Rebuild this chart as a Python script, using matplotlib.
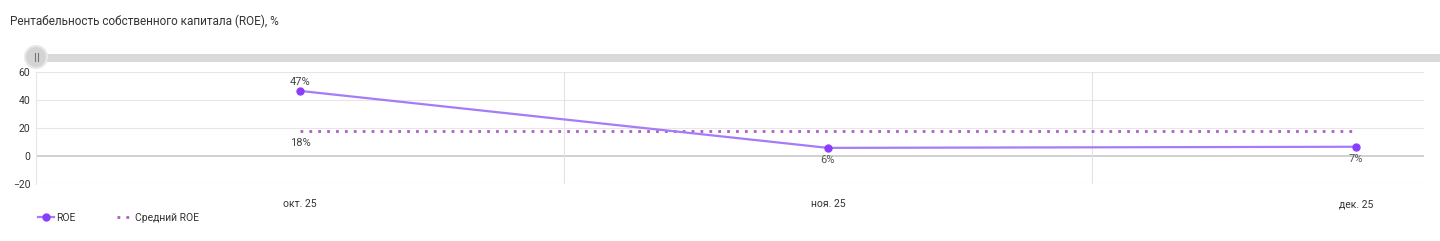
import matplotlib.pyplot as plt
from matplotlib.patches import Rectangle, Ellipse

months = ["окт. 25", "ноя. 25", "дек. 25"]
roe = [46.5, 5.8, 6.6]
roe_labels = ["47%", "6%", "7%"]
avg_roe = 18.0
avg_label = "18%"
yticks = [-20, 0, 20, 40, 60]

plt.rcParams['font.family'] = ['Roboto', 'DejaVu Sans']

W, H = 1440, 241
fig = plt.figure(figsize=(W / 100, H / 100), dpi=100)

def fx(px):
    return px / W

def fy(py):
    return 1 - py / H

fig.text(fx(10), fy(21), "Рентабельность собственного капитала (ROE), %",
         fontsize=8.5, color="#333333", va="center", ha="left")

# slider
fig.patches.append(Rectangle((fx(36), fy(62)), fx(1440 - 36), 8 / H,
                             transform=fig.transFigure, color="#d9d9d9", lw=0))
fig.patches.append(Ellipse((fx(36), fy(57)), 22 / W, 22 / H,
                           transform=fig.transFigure, facecolor="#d4d4d4",
                           edgecolor="#e8e8e8", lw=1.5, zorder=3))
for dx in (-1.5, 1.5):
    fig.lines.append(plt.Line2D([fx(36 + dx)] * 2, [fy(53), fy(61)],
                                transform=fig.transFigure, color="#777777",
                                lw=0.8, zorder=4))

ax = fig.add_axes([fx(36), fy(184), fx(1424 - 36), (184 - 72) / H])
x = list(range(len(months)))

ax.plot(x, roe, color="#a57cf7", lw=1.6, zorder=3, marker="o", ms=5,
        mfc="#8b3dff", mec="#8b3dff", label="ROE")
ax.plot(x, [avg_roe] * len(x), linestyle=(0, (1, 2.2)), color="#b05cc4",
        lw=2, zorder=2, label="Средний ROE")

ax.annotate(roe_labels[0], (x[0], roe[0]), xytext=(0, 3),
            textcoords="offset points", ha="center", va="bottom",
            fontsize=8, color="#444444")
for i in range(1, len(x)):
    ax.annotate(roe_labels[i], (x[i], roe[i]), xytext=(0, -5),
                textcoords="offset points", ha="center", va="top",
                fontsize=8, color="#555555")
ax.annotate(avg_label, (x[0], avg_roe), xytext=(0, -5),
            textcoords="offset points", ha="center", va="top",
            fontsize=8, color="#444444")

ax.set_xlim(-0.5, 2.129)
ax.set_ylim(-20, 60)
ax.set_yticks(yticks)
ax.set_xticks(x)
ax.set_xticklabels(months)
ax.tick_params(axis="both", length=0, labelsize=7.5, colors="#333333")
ax.tick_params(axis="x", pad=11)
ax.tick_params(axis="y", pad=4)

for yv in yticks:
    ax.axhline(yv, color="#c4c4c4" if yv == 0 else "#e6e6e6",
               lw=1.1 if yv == 0 else 0.8, zorder=1)
for xv in [0.5, 1.5]:
    ax.axvline(xv, color="#e3e3e3", lw=0.8, zorder=1)
for s in ax.spines.values():
    s.set_visible(False)
ax.spines["left"].set_visible(True)
ax.spines["left"].set_color("#e6e6e6")
ax.spines["left"].set_linewidth(0.8)

fig.legend(loc="center left", bbox_to_anchor=(fx(29), fy(218)), ncol=2,
           frameon=False, fontsize=7.5, handlelength=1.5, columnspacing=4,
           handletextpad=0.2, labelcolor="#333333")

fig.savefig("out.png", dpi=100, facecolor="white")
